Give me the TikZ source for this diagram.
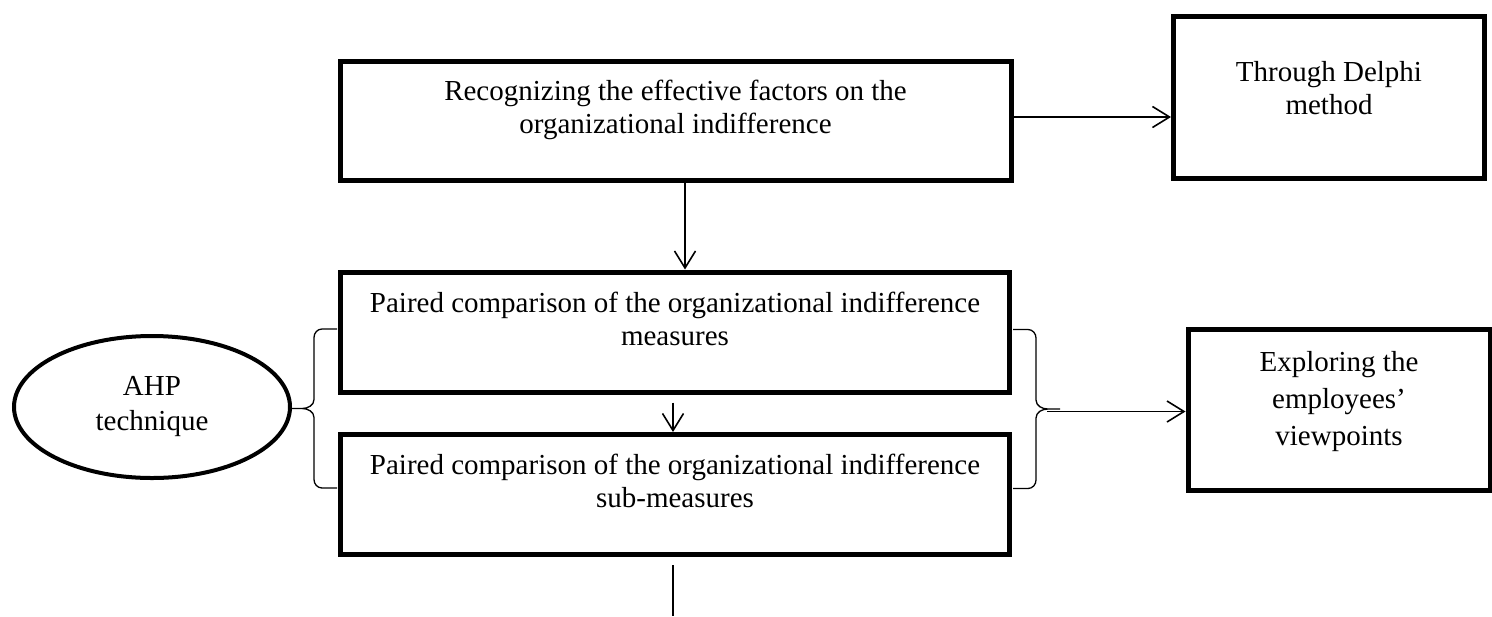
\documentclass[tikz,border=0pt]{standalone}
\usepackage{fontspec}
\setmainfont{Liberation Serif}
\usetikzlibrary{positioning}
\usetikzlibrary{arrows.meta}
\usetikzlibrary{shapes.geometric}

\begin{document}
\begin{tikzpicture}[x=0.5pt,y=-0.5pt,
    stepbox/.style={draw,line width=2.5pt,inner sep=0pt},
    txt/.style={align=center,inner sep=0pt,font=\fontsize{14.5}{16.5}\selectfont},
    arr/.style={line width=0.8pt,-{Straight Barb[length=8.5pt,width=10.5pt]}}]
\useasboundingbox (0,0) rectangle (1492,616);
\def\brk(#1)#2;{%
    \begin{scope}[shift={(#1)},xscale=#2]
        \draw[line width=0.65pt] (47,-79.5) -- (32,-79.5) to[out=180,in=90] (24,-71) --
            (24,-9) to[out=270,in=0] (12,0) -- (0,0) -- (12,0) to[out=0,in=90] (24,9) --
            (24,71) to[out=270,in=180] (32,79.5) -- (47,79.5);
    \end{scope}}

% boxes
\node[stepbox,minimum width=335.5pt,minimum height=59.5pt] (rec) at (675.5,120.5) {};
\node[stepbox,minimum width=155.5pt,minimum height=81pt] (delphi) at (1329,97) {};
\node[stepbox,minimum width=334.5pt,minimum height=60pt] (pc1) at (675,332) {};
\node[stepbox,minimum width=334.5pt,minimum height=60pt] (pc2) at (675,494.5) {};
\node[stepbox,minimum width=151pt,minimum height=80.5pt] (expl) at (1339,410) {};
\node[draw,ellipse,line width=2pt,inner sep=0pt,minimum width=138pt,minimum height=71pt,
    txt,font=\fontsize{14.5}{17.5}\selectfont] (ahp) at (152,407) {AHP\\technique};

% texts
\node[txt] (rectxt) at ([yshift=5.25pt]rec.center) {Recognizing the effective factors on the\\organizational indifference};
\node[txt] (delphitxt) at ([yshift=4.25pt]delphi.center) {Through Delphi\\method};
\node[txt] (pc1txt) at ([yshift=6.5pt]pc1.center) {Paired comparison of the organizational indifference\\measures};
\node[txt] (pc2txt) at ([yshift=6.75pt]pc2.center) {Paired comparison of the organizational indifference\\sub-measures};
\node[txt,font=\fontsize{14.5}{18.5}\selectfont] (expltxt) at ([yshift=4pt]expl.center) {Exploring the\\employees’\\viewpoints};

% connectors
\coordinate (r1) at ([yshift=1.75pt]rec.east);
\draw[arr] (r1) -- (r1 -| delphi.west);
\coordinate (d1) at ([xshift=4.75pt]rec.south);
\draw[arr] (d1) -- (d1 |- pc1.north);
\coordinate (d2) at ([xshift=-1pt,yshift=-4pt]pc1.south);
\draw[arr] (d2) -- (d2 |- pc2.north);
\coordinate (d3) at ([xshift=-1pt,yshift=-4pt]pc2.south);
\coordinate (bot) at (673,616);
\draw[line width=0.8pt] (d3) -- (bot);

% braces
\brk(290,408.5){1};
\brk(1060,409){-1};
\coordinate (rtip) at (1047,411.5);
\draw[arr] (rtip) -- (rtip -| expl.west);

\end{tikzpicture}
\end{document}
